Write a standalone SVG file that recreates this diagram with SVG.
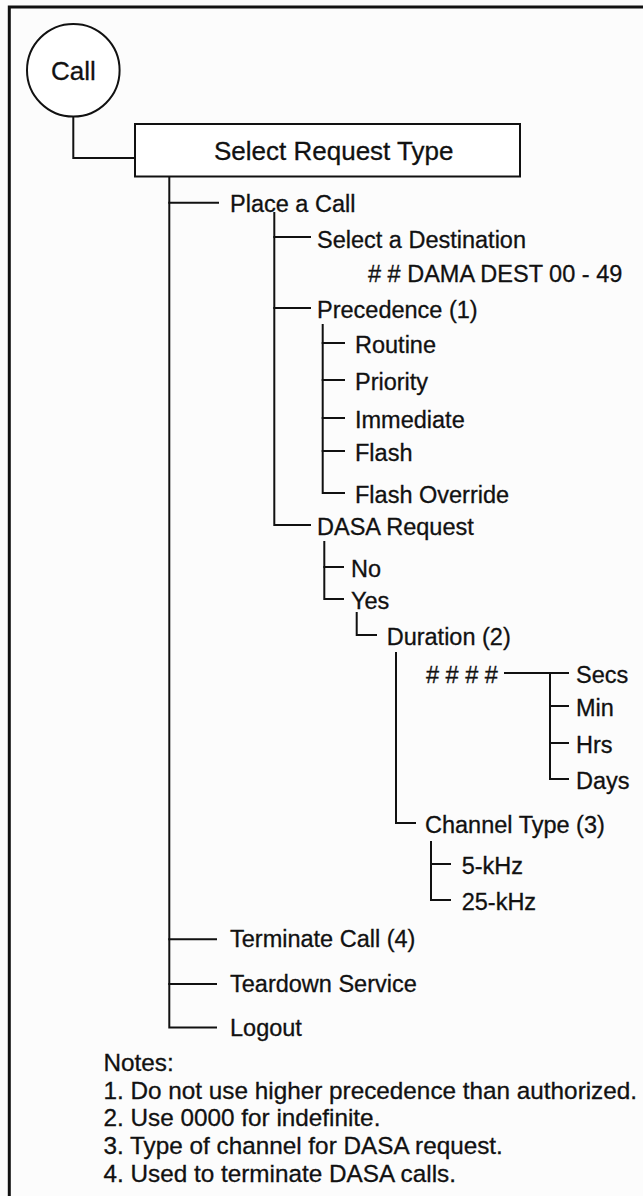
<svg xmlns="http://www.w3.org/2000/svg" width="643" height="1196" viewBox="0 0 643 1196">
<style>
text{font-family:"Liberation Sans",Arial,Helvetica,sans-serif;fill:#111;stroke:#111;stroke-width:0.3;font-size:23.5px}
.big{font-size:26px}
.note{font-size:24.3px}
.c{fill:none;stroke:#111;stroke-width:2;stroke-linecap:square}
.shape{fill:#fff;stroke:#111;stroke-width:2}
</style>
<rect x="0" y="0" width="643" height="1196" fill="#fcfcfc"/>
<path id="frame" d="M9.3,1196 V7 H643" fill="none" stroke="#111" stroke-width="3"/>
<g id="connectors" class="c">
<path d="M73.3,116.6 V158 H135"/>
<path d="M169.3,176 V1027.5 H216"/>
<path d="M169.3,202.7 H218"/>
<path d="M169.3,939.3 H216"/>
<path d="M169.3,984 H216"/>
<path d="M274.3,213 V525 H310"/>
<path d="M274.3,237 H310"/>
<path d="M274.3,308 H310"/>
<path d="M322.7,325 V493 H344"/>
<path d="M322.7,343 H344"/>
<path d="M322.7,380 H344"/>
<path d="M322.7,418 H344"/>
<path d="M322.7,451 H344"/>
<path d="M324.3,542 V599 H343"/>
<path d="M324.3,567 H343"/>
<path d="M356.7,613 V635 H376"/>
<path d="M396,653 V823 H415"/>
<path d="M505,673 H568"/>
<path d="M550,673 V779 H568"/>
<path d="M550,706 H568"/>
<path d="M550,743 H568"/>
<path d="M431,842 V900 H450"/>
<path d="M431,864 H450"/>
</g>
<g id="node-call"><circle class="shape" cx="73.3" cy="70.3" r="46.3"/><text class="big" x="73.3" y="79.5" text-anchor="middle" font-size="25.5">Call</text></g>
<g id="node-select-request-type"><rect class="shape" x="135" y="124" width="385" height="52.5"/><text class="big" x="214" y="160">Select Request Type</text></g>
<g id="node-place-call"><text x="230" y="212.2">Place a Call</text></g>
<g id="node-select-destination"><text x="317" y="247.5">Select a Destination</text></g>
<g id="node-dama-dest"><text x="368" y="281.7"># # DAMA DEST 00 - 49</text></g>
<g id="node-precedence"><text x="317" y="317.5">Precedence (1)</text></g>
<g id="node-routine"><text x="355" y="352.5">Routine</text></g>
<g id="node-priority"><text x="355" y="389.5">Priority</text></g>
<g id="node-immediate"><text x="355" y="427.5">Immediate</text></g>
<g id="node-flash"><text x="355" y="460.5">Flash</text></g>
<g id="node-flash-override"><text x="355" y="502.5">Flash Override</text></g>
<g id="node-dasa-request"><text x="317" y="534.5">DASA Request</text></g>
<g id="node-no"><text x="351" y="576.5">No</text></g>
<g id="node-yes"><text x="351" y="608.5">Yes</text></g>
<g id="node-duration"><text x="386.7" y="644.5">Duration (2)</text></g>
<g id="node-hash"><text x="426" y="682.5"># # # #</text></g>
<g id="node-secs"><text x="576" y="682.5">Secs</text></g>
<g id="node-min"><text x="576" y="715.5">Min</text></g>
<g id="node-hrs"><text x="576" y="752.5">Hrs</text></g>
<g id="node-days"><text x="576" y="788.5">Days</text></g>
<g id="node-channel-type"><text x="425" y="832.5">Channel Type (3)</text></g>
<g id="node-5khz"><text x="461.7" y="873.5">5-kHz</text></g>
<g id="node-25khz"><text x="461.7" y="909.5">25-kHz</text></g>
<g id="node-terminate"><text x="230" y="947">Terminate Call (4)</text></g>
<g id="node-teardown"><text x="230" y="992">Teardown Service</text></g>
<g id="node-logout"><text x="230" y="1036">Logout</text></g>
<g id="notes">
<text class="note" x="103.5" y="1071">Notes:</text>
<text class="note" x="103.5" y="1098.5">1. Do not use higher precedence than authorized.</text>
<text class="note" x="103.5" y="1126">2. Use 0000 for indefinite.</text>
<text class="note" x="103.5" y="1154">3. Type of channel for DASA request.</text>
<text class="note" x="103.5" y="1181.5">4. Used to terminate DASA calls.</text>
</g>
</svg>
